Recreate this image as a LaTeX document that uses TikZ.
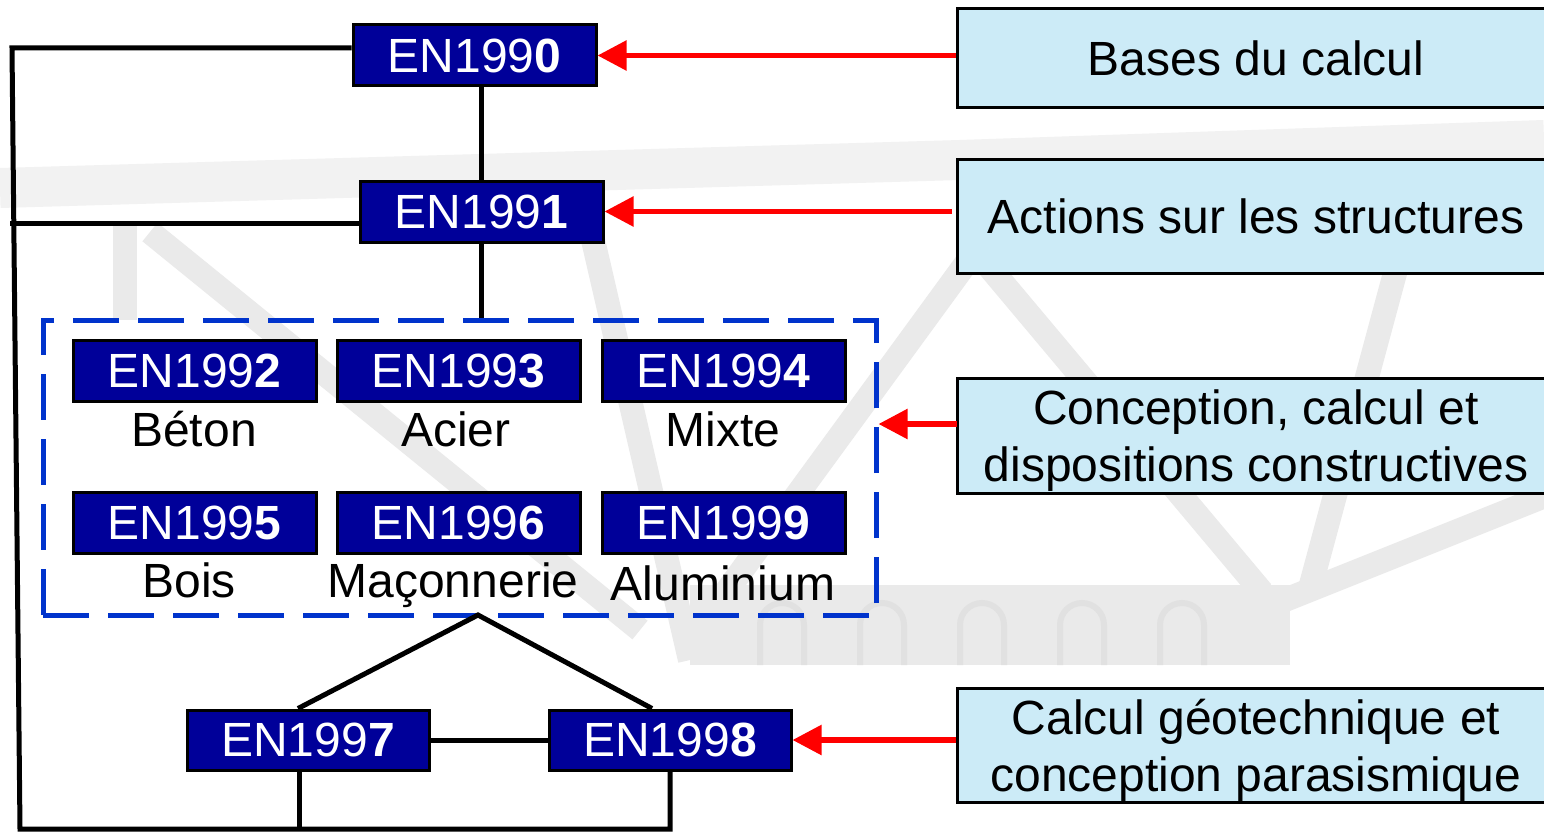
\documentclass[tikz,border=0pt]{standalone}
\usepackage{fontspec}
\setmainfont{Liberation Sans}
\usetikzlibrary{arrows.meta,calc}

\definecolor{enblue}{RGB}{0,0,153}
\definecolor{paleblue}{RGB}{204,235,247}
\definecolor{dashblue}{RGB}{0,51,204}
\definecolor{arrred}{RGB}{255,0,0}
\definecolor{truss}{RGB}{234,234,234}
\definecolor{trusslight}{RGB}{242,242,242}
\definecolor{trussdark}{RGB}{225,225,225}

\tikzset{
  txt/.style={font=\fontsize{48}{57}\selectfont},
  enbox/.style={txt, draw=black, line width=3pt, fill=enblue, text=white,
    minimum width=243pt, minimum height=61pt, inner sep=0pt},
  descbox/.style={txt, draw=black, line width=3pt, fill=paleblue, text=black,
    minimum width=598pt, inner sep=0pt, align=center},
  matlabel/.style={txt, text=black, anchor=base, inner sep=0pt},
  link/.style={draw=black, line width=5pt},
  refarrow/.style={draw=arrred, line width=5.5pt, -{Triangle[length=29pt,width=29pt]}},
  member/.style={draw=truss, line width=24pt},
}

\begin{document}
\begin{tikzpicture}[x=1pt, y=-1pt]
\useasboundingbox (0,0) rectangle (1544,832);
\clip (0,0) rectangle (1544,832);
\fill[white] (0,0) rectangle (1544,832);

% faint truss bridge in the background
\draw[draw=trusslight, line width=40pt] (0,188) -- (960,160) -- (1544,140);
\draw[member] (125,225) -- (125,320);
\draw[member] (150,232) -- (640,630);
\draw[member] (593,240) -- (690,660);
\draw[member] (967,262) -- (702,625);
\draw[member] (985,262) -- (1262,592);
\draw[member] (1398,262) -- (1309,592);
\draw[member] (1560,490) -- (1285,600);
\fill[truss] (690,585) rectangle (1290,665);
\foreach \ax in {760,860,960,1060,1160}
  \draw[draw=trussdark, line width=6pt] (\ax,665) -- (\ax,625) arc[start angle=180, end angle=0, radius=22pt] -- (\ax+44,665);

% Eurocode boxes
\node[enbox] (en0) at (474.5,55.5) {EN199\textbf{0}};
\node[enbox] (en1) at (481.5,211.5) {EN199\textbf{1}};

\node[enbox] (en2) at (194.5,371) {EN199\textbf{2}};
\node[enbox] (en3) at (458.5,371) {EN199\textbf{3}};
\node[enbox] (en4) at (723.5,371) {EN199\textbf{4}};
\node[enbox] (en5) at (194.5,522.5) {EN199\textbf{5}};
\node[enbox] (en6) at (458.5,522.5) {EN199\textbf{6}};
\node[enbox] (en9) at (723.5,522.5) {EN199\textbf{9}};

\node[matlabel] (mat2) at (194,446) {Béton};
\node[matlabel] (mat3) at (456,446) {Acier};
\node[matlabel] (mat4) at (723,446) {Mixte};
\node[matlabel] (mat5) at (189,597) {Bois};
\node[matlabel] (mat6) at (453,597) {Maçonnerie};
\node[matlabel] (mat9) at (723,600) {Aluminium};

% dashed group of material codes
\node[draw=dashblue, line width=5pt, dash pattern=on 46pt off 19pt,
      minimum width=833pt, minimum height=295pt, inner sep=0pt] (group) at (459.5,467.5) {};

\node[enbox, minimum width=242pt, minimum height=60pt] (en7) at (308,740) {EN199\textbf{7}};
\node[enbox, minimum width=242pt, minimum height=60pt] (en8) at (670,740) {EN199\textbf{8}};

% description boxes
\node[descbox, minimum height=99pt] (bases) at (1256,58.5) {Bases du calcul};
\node[descbox, minimum height=114pt] (actions) at (1256,216) {Actions sur les structures};
\node[descbox, minimum height=115pt, text depth=0pt] (concept) at (1256,435.5) {Conception, calcul et\\dispositions constructives};
\node[descbox, minimum height=114pt, text depth=0pt] (geo) at (1256,745) {Calcul géotechnique et\\conception parasismique};

% connectors
\coordinate (l0) at (12,48);
\coordinate (l1) at (10,223);
\coordinate (bl) at (20,829);
\coordinate (c97) at (299,829);
\coordinate (apex) at (478,615);
\coordinate (carr) at (957,424);

\draw[link] (en0.south -| en1.north) -- (en1.north);
\draw[link] (en1.south) -- (en1.south |- group.north);
\draw[link] (en0.west |- l0) -- (l0) -- (bl) -- (en8.south |- bl) -- (en8.south);
\draw[link] (l1) -- (en1.west |- l1);
\draw[link] ($(en7.north)+(-10,0)$) -- (apex) -- ($(en8.north)+(-18,0)$);
\draw[link] (en7.east) -- (en8.west);
\draw[link] (c97 |- en7.south) -- (c97);

\draw[refarrow] (bases.west |- en0.east) -- (en0.east);
\draw[refarrow] ($(actions.west |- en1.east)+(-4,0)$) -- (en1.east);
\draw[refarrow] (carr) -- (group.east |- carr);
\draw[refarrow] (geo.west |- en8.east) -- (en8.east);
\end{tikzpicture}
\end{document}
